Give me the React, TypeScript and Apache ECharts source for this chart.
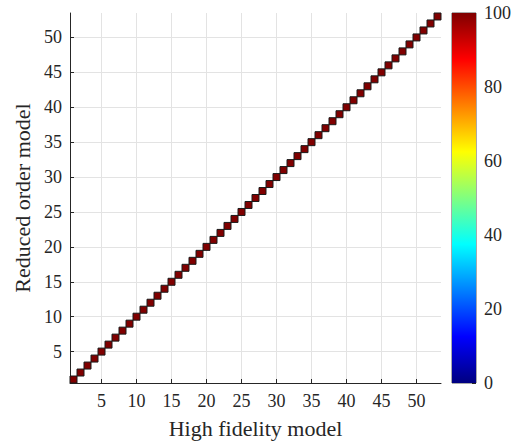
import React, { useEffect, useRef } from "react";
import * as echarts from "echarts";

const modelIndex = [
  1, 2, 3, 4, 5, 6, 7, 8, 9, 10, 11, 12, 13, 14, 15, 16, 17, 18, 19, 20,
  21, 22, 23, 24, 25, 26, 27, 28, 29, 30, 31, 32, 33, 34, 35, 36, 37, 38, 39, 40,
  41, 42, 43, 44, 45, 46, 47, 48, 49, 50, 51, 52, 53,
];
const diagonalValues = [
  100, 100, 100, 100, 100, 100, 100, 100, 100, 100, 100, 100, 100, 100, 100, 100, 100, 100, 100, 100,
  100, 100, 100, 100, 100, 100, 100, 100, 100, 100, 100, 100, 100, 100, 100, 100, 100, 100, 100, 100,
  100, 100, 100, 100, 100, 100, 100, 100, 100, 100, 100, 100, 100,
];
const axisTicks = [5, 10, 15, 20, 25, 30, 35, 40, 45, 50];
const colorbarMin = 0;
const colorbarMax = 100;
const colorbarInterval = 20;
const jet = ["#000080", "#0000ff", "#0080ff", "#00ffff", "#80ff80", "#ffff00", "#ff8000", "#ff0000", "#800000"];

const FONT = "'Liberation Serif', 'DejaVu Serif', serif";

export default function App() {
  const ref = useRef<HTMLDivElement>(null);
  useEffect(() => {
    document.body.style.margin = "0";
    const chart = echarts.init(ref.current!, null, { renderer: "svg" });
    const data = modelIndex.map((m, i) => [m, m, diagonalValues[i]]);
    const gradStops = jet.map((c, i) => ({ offset: i / (jet.length - 1), color: c }));
    const axisCommon = {
      type: "value" as const,
      min: 0.5,
      max: modelIndex.length + 0.5,
      axisLine: { show: true, lineStyle: { color: "#262626", width: 1 } },
      axisTick: { show: true, inside: true, length: 4, customValues: axisTicks, lineStyle: { color: "#262626" } },
      splitLine: { show: true, lineStyle: { color: "#e3e3e3", width: 1 } },
      nameLocation: "middle" as const,
      nameTextStyle: { fontFamily: FONT, fontSize: 22, color: "#262626" },
    };
    chart.setOption({
      animation: false,
      backgroundColor: "#ffffff",
      textStyle: { fontFamily: FONT },
      grid: [
        { left: 70, top: 13, width: 371, height: 370, show: false, outerBoundsMode: "none", containLabel: false },
        {
          left: 452, top: 13, width: 24, height: 370, show: true, borderColor: "#555555", borderWidth: 1,
          outerBoundsMode: "none", containLabel: false,
        },
      ],
      xAxis: [
        {
          ...axisCommon,
          gridIndex: 0,
          name: "High fidelity model",
          nameGap: 34,
          axisLabel: { customValues: axisTicks, fontFamily: FONT, fontSize: 18, color: "#262626", margin: 9 },
        },
        { type: "category", gridIndex: 1, data: ["c"], show: false },
      ],
      yAxis: [
        {
          ...axisCommon,
          gridIndex: 0,
          name: "Reduced order model",
          nameGap: 35,
          axisLabel: { customValues: axisTicks, fontFamily: FONT, fontSize: 18, color: "#262626", margin: 8 },
        },
        {
          type: "value",
          gridIndex: 1,
          position: "right",
          min: colorbarMin,
          max: colorbarMax,
          interval: colorbarInterval,
          axisLine: { show: false },
          axisTick: { show: true, inside: true, length: 4, lineStyle: { color: "#262626" } },
          splitLine: { show: false },
          axisLabel: { fontFamily: FONT, fontSize: 18, color: "#262626", margin: 8 },
        },
      ],
      visualMap: {
        show: false,
        type: "continuous",
        min: colorbarMin,
        max: colorbarMax,
        dimension: 2,
        seriesIndex: 0,
        inRange: { color: jet },
      },
      series: [
        {
          type: "custom",
          xAxisIndex: 0,
          yAxisIndex: 0,
          data,
          renderItem: (params: any, api: any) => {
            const x = api.value(0);
            const y = api.value(1);
            const p0 = api.coord([x - 0.5, y + 0.5]);
            const p1 = api.coord([x + 0.5, y - 0.5]);
            return {
              type: "rect",
              shape: { x: p0[0], y: p0[1], width: p1[0] - p0[0], height: p1[1] - p0[1] },
              style: { fill: api.visual("color"), stroke: "#1a1a1a", lineWidth: 1 },
            };
          },
        },
        {
          type: "bar",
          xAxisIndex: 1,
          yAxisIndex: 1,
          data: [colorbarMax],
          barWidth: "100%",
          itemStyle: {
            color: new echarts.graphic.LinearGradient(0, 1, 0, 0, gradStops),
          },
          silent: true,
          z: 1,
        },
      ],
    });
    return () => chart.dispose();
  }, []);
  return <div ref={ref} style={{ width: 515, height: 446 }} />;
}
